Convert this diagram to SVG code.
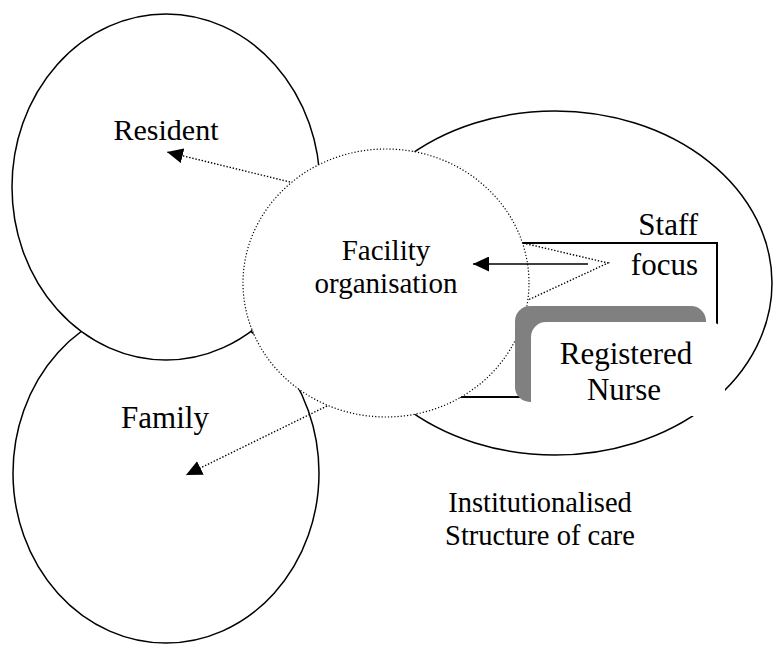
<svg xmlns="http://www.w3.org/2000/svg" width="774" height="645" viewBox="0 0 774 645">
  <style>
    .ring { fill: #ffffff; stroke: #000000; stroke-width: 1.5; }
    .dotring { fill: #ffffff; stroke: #000000; stroke-width: 1.2; stroke-dasharray: 1.2 2; }
    .box { fill: none; stroke: #000000; stroke-width: 2; }
    .lbl { font-family: "Liberation Serif", "Times New Roman", serif; font-size: 30px; fill: #000000; }
    .mid { text-anchor: middle; }
    .end { text-anchor: end; }
    .dot { fill: none; stroke: #000000; stroke-width: 1.4; stroke-dasharray: 1.4 1.8; }
    .solid { fill: none; stroke: #000000; stroke-width: 1.5; }
  </style>
  <defs>
    <marker id="ah" markerUnits="userSpaceOnUse" markerWidth="16" markerHeight="15" refX="16" refY="7.5" orient="auto">
      <path d="M0,0 L16,7.5 L0,15 z" fill="#000000" stroke="none"/>
    </marker>
  </defs>
  <rect x="0" y="0" width="774" height="645" fill="#ffffff"/>

  <g id="family">
    <ellipse class="ring" cx="166" cy="473" rx="153" ry="170"/>
    <text class="lbl mid" x="165" y="428" style="font-size:31px">Family</text>
  </g>

  <g id="resident">
    <ellipse class="ring" cx="166" cy="187" rx="154" ry="173"/>
    <text class="lbl mid" x="166" y="140">Resident</text>
  </g>

  <g id="staff">
    <ellipse class="ring" cx="555" cy="283" rx="217" ry="172"/>
    <rect class="box" x="440" y="243" width="277" height="154"/>
    <text class="lbl end" x="698" y="235" style="font-size:31px">Staff</text>
    <text class="lbl end" x="698" y="275" style="font-size:31px">focus</text>
    <text class="lbl mid" x="540" y="512" style="font-size:28.5px">Institutionalised</text>
    <text class="lbl mid" x="540" y="545" style="font-size:28.5px">Structure of care</text>
  </g>

  <g id="facility">
    <ellipse class="dotring" cx="386" cy="283" rx="143" ry="134"/>
    <text class="lbl mid" x="386" y="260" style="font-size:29px">Facility</text>
    <text class="lbl mid" x="386" y="293" style="font-size:29px">organisation</text>
  </g>

  <g id="nurse">
    <rect x="515" y="306" width="191" height="96" rx="15" fill="#808080"/>
    <rect x="531" y="322" width="194" height="94" rx="15" fill="#ffffff"/>
    <text class="lbl mid" x="626" y="364" style="font-size:31px">Registered</text>
    <text class="lbl mid" x="624" y="400" style="font-size:31px">Nurse</text>
  </g>

  <g id="connectors">
    <path class="dot" d="M523,243 L608,263 L528,300"/>
    <line class="solid" x1="588" y1="264" x2="473" y2="264" marker-end="url(#ah)"/>
    <line class="dot" x1="290" y1="182" x2="167" y2="152" marker-end="url(#ah)"/>
    <line class="dot" x1="327" y1="406" x2="186" y2="475" marker-end="url(#ah)"/>
  </g>
</svg>
